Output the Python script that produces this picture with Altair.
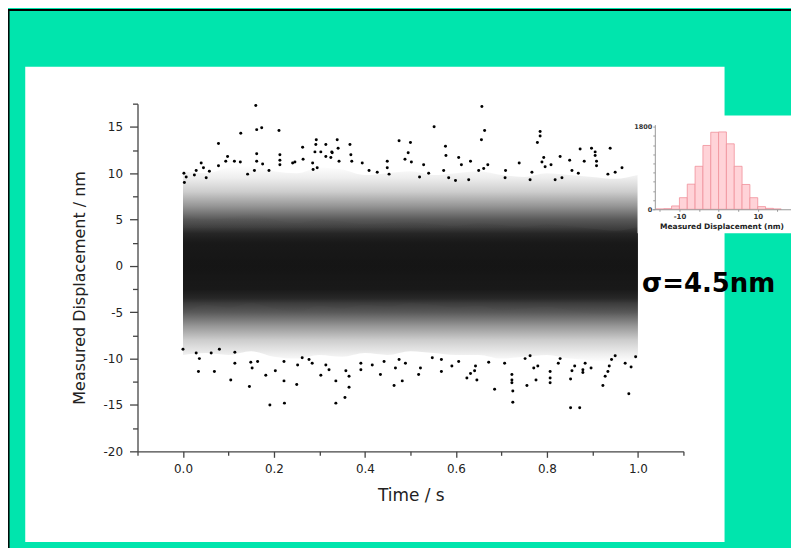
import altair as alt
import pandas as pd

# ---------------- data ----------------
# density envelope of the dense trace (Time / s vs nm), estimated per 0.05 s
knot_t = [0.00, 0.05, 0.10, 0.15, 0.20, 0.25, 0.30, 0.35, 0.40, 0.45, 0.50,
          0.55, 0.60, 0.65, 0.70, 0.75, 0.80, 0.85, 0.90, 0.95, 1.00]
core_hi = [5.8, 5.0, 5.2, 5.6, 5.0, 4.6, 5.0, 4.8, 4.5, 4.6, 4.7,
           4.5, 4.3, 4.6, 4.4, 4.2, 4.5, 4.3, 4.0, 3.8, 4.2]
core_lo = [-5.4, -4.2, -4.5, -4.0, -4.6, -5.0, -4.3, -4.6, -4.2, -4.4, -4.0,
           -4.2, -4.5, -4.3, -4.8, -4.6, -4.4, -4.8, -5.2, -5.5, -5.0]
light_hi = [10.2, 10.0, 10.6, 10.8, 10.2, 10.0, 10.6, 10.4, 9.8, 10.0, 10.2,
            9.8, 10.0, 10.2, 9.8, 9.6, 10.0, 9.8, 9.6, 9.4, 9.8]
light_lo = [-9.6, -9.4, -9.6, -9.2, -9.8, -10.0, -9.6, -9.8, -9.4, -9.6, -9.2,
            -9.4, -9.6, -9.6, -10.0, -9.8, -9.6, -10.0, -10.2, -10.4, -10.0]

# individually visible points outside the dense band
out_t = [0.160, 0.127, 0.162, 0.173, 0.211, 0.078, 0.293, 0.292, 0.314, 0.339,
         0.367, 0.263, 0.290, 0.303, 0.327, 0.475, 0.495, 0.040, 0.029, 0.045,
         0.058, 0.078, 0.098, 0.094, 0.113, 0.126, 0.162, 0.162, 0.175, 0.142,
         0.157, 0.189, 0.213, 0.213, 0.213, 0.241, 0.246, 0.264, 0.285, 0.286,
         0.295, 0.314, 0.325, 0.328, 0.341, 0.343, 0.369, 0.371, 0.394, 0.409,
         0.427, 0.449, 0.449, 0.453, 0.488, 0.007, 0.025, 0.051, 0.003, 0.002,
         0.657, 0.552, 0.663, 0.656, 0.785, 0.785, 0.779, 0.500, 0.577, 0.873,
         0.898, 0.939, 0.906, 0.502, 0.529, 0.578, 0.606, 0.632, 0.612, 0.650,
         0.661, 0.670, 0.739, 0.793, 0.789, 0.829, 0.850, 0.882, 0.906, 0.909,
         0.909, 0.934, 0.950, 0.540, 0.573, 0.709, 0.708, 0.767, 0.763, 0.809,
         0.796, 0.855, 0.869, 0.818, 0.833, 0.584, 0.599, 0.628, 0.520, 0.965,
         0.036, 0.034, 0.069, 0.105, 0.114, 0.114, 0.146, 0.152, 0.164, 0.149,
         0.191, 0.223, 0.182, 0.203, 0.222, 0.222, 0.250, 0.252, 0.277, 0.284,
         0.262, 0.303, 0.314, 0.321, 0.336, 0.336, 0.356, 0.365, 0.365, 0.358,
         0.391, 0.391, 0.416, 0.434, 0.442, 0.464, 0.482, 0.467, 0.489, 0.000,
         0.029, 0.062, 0.080, 0.518, 0.522, 0.568, 0.591, 0.606, 0.624, 0.632,
         0.641, 0.646, 0.643, 0.685, 0.672, 0.723, 0.723, 0.723, 0.725, 0.725,
         0.707, 0.756, 0.776, 0.771, 0.780, 0.807, 0.807, 0.807, 0.852, 0.872,
         0.852, 0.855, 0.861, 0.879, 0.879, 0.923, 0.928, 0.934, 0.937, 0.980,
         0.972, 0.897, 0.884, 0.475, 0.548, 0.568, 0.752, 0.763, 0.825, 0.829,
         0.942, 0.950, 0.995, 0.985]
out_y = [17.3, 14.3, 14.7, 14.9, 14.6, 13.2, 13.6, 13.1, 13.1, 13.6,
         13.1, 12.8, 12.3, 12.3, 12.3, 13.5, 12.2, 11.1, 10.3, 10.6,
         10.2, 10.8, 11.8, 11.3, 11.3, 11.2, 12.1, 11.3, 11.0, 9.9,
         10.3, 10.3, 12.0, 11.4, 10.9, 11.1, 11.2, 11.5, 11.1, 10.4,
         10.6, 11.8, 11.7, 12.2, 12.7, 11.3, 12.0, 11.3, 11.1, 10.3,
         10.1, 11.3, 10.6, 9.9, 11.5, 9.6, 9.8, 9.5, 9.0, 10.0,
         17.2, 15.0, 14.6, 13.6, 14.5, 14.0, 13.3, 13.3, 12.9, 12.6,
         12.7, 12.7, 12.3, 11.2, 10.9, 11.9, 11.7, 11.3, 10.9, 10.3,
         10.5, 10.9, 11.1, 11.7, 11.2, 11.8, 11.4, 11.3, 11.9, 11.3,
         10.8, 9.9, 10.1, 10.0, 10.3, 10.3, 9.5, 10.1, 9.3, 10.9,
         10.7, 10.3, 10.0, 9.3, 9.5, 9.5, 9.2, 9.3, 9.6, 10.6,
         -10.0, -11.4, -11.4, -12.3, -10.5, -9.3, -13.0, -11.0, -10.3, -10.4,
         -15.0, -14.8, -11.8, -11.3, -12.4, -10.3, -12.8, -10.7, -10.1, -10.5,
         -9.9, -11.8, -10.7, -11.2, -14.8, -12.4, -14.2, -13.1, -11.9, -11.3,
         -11.2, -10.5, -10.7, -11.7, -10.3, -12.9, -12.4, -11.0, -10.5, -9.0,
         -9.4, -9.4, -9.0, -11.7, -11.0, -11.4, -10.8, -10.3, -12.1, -11.6,
         -11.3, -12.3, -10.8, -13.3, -10.4, -11.7, -12.3, -12.6, -13.5, -14.7,
         -10.5, -12.9, -12.3, -11.0, -10.8, -12.1, -12.6, -11.4, -15.3, -15.3,
         -12.2, -11.3, -10.8, -11.2, -11.5, -12.9, -11.9, -11.4, -10.8, -13.8,
         -10.5, -11.0, -10.5, -10.1, -9.9, -10.1, -10.0, -9.7, -10.5, -10.0,
         -10.1, -9.7, -9.8, -10.9]

x_tick_values = [-0.1, 0.0, 0.1, 0.2, 0.3, 0.4, 0.5, 0.6, 0.7, 0.8, 0.9, 1.0, 1.1]
y_tick_values = [-20, -17.5, -15, -12.5, -10, -7.5, -5, -2.5, 0, 2.5, 5, 7.5,
                 10, 12.5, 15, 17.5]

# inset histogram (2 nm bins)
hist_bin_start = [-16, -14, -12, -10, -8, -6, -4, -2, 0, 2, 4, 6, 8, 10, 12, 14]
hist_counts = [6, 12, 72, 252, 547, 936, 1390, 1678, 1685, 1426, 936, 540, 252,
               58, 20, 5]
hist_bin_width = 2
hist_x_ticks = [-15, -10, -5, 0, 5, 10, 15]
hist_y_ticks = [0, 200, 400, 600, 800, 1000, 1200, 1400, 1600, 1800]

sigma_label = ["σ=4.5nm"]

# ---------------- frames ----------------
light_df = pd.DataFrame({"t": knot_t, "lo": light_lo, "hi": light_hi})
core_df = pd.DataFrame({"t": knot_t, "lo": core_lo, "hi": core_hi})
pts = pd.DataFrame({"t": out_t, "y": out_y})
hist = pd.DataFrame({"b0": hist_bin_start,
                     "b1": [b + hist_bin_width for b in hist_bin_start],
                     "count": hist_counts})
one = alt.Data(values=[{"k": 1}])

W, H = 548, 349
GREEN = "#00E5AD"
FONT = "DejaVu Sans"

x_axis = alt.Axis(
    values=x_tick_values,
    labelExpr="abs(round(datum.value*10)) % 2 == 0 ? format(datum.value, '.1f') : ''",
    tickSize={"condition": {"test": "abs(round(datum.value*10)) % 2 == 1", "value": 4}, "value": 6},
    labelPadding=6, labelFontSize=12, labelFont=FONT, labelColor="#222",
    title="Time / s", titleFontSize=17, titleFont=FONT, titleFontWeight="normal",
    titleColor="#222", titleX=274.3, titleY=44.7, titleBaseline="middle",
    domainColor="#444", tickColor="#444", domainWidth=1.3, tickWidth=1.3,
    grid=False, zindex=1, orient="bottom",
)
y_axis = alt.Axis(
    values=y_tick_values,
    labelExpr="datum.value % 5 == 0 ? '' + datum.value : ''",
    tickSize={"condition": {"test": "datum.value % 5 != 0", "value": 5}, "value": 8},
    labelPadding=7, labelFontSize=12, labelFont=FONT, labelColor="#222",
    title="Measured Displacement / nm", titleFontSize=16, titleFont=FONT,
    titleFontWeight="normal", titleColor="#222", titleAngle=270,
    titleX=-58.7, titleY=184.5, titleAlign="center", titleBaseline="middle",
    domainColor="#444", tickColor="#444", domainWidth=1.3, tickWidth=1.3,
    grid=False, zindex=1, orient="left",
)
xs = alt.Scale(domain=[-0.1, 1.1], nice=False, zero=False)
ys = alt.Scale(domain=[-20, 17.5], nice=False, zero=False)

# vertical shading of the dot cloud (style only): grey level vs displacement
def grad(top, bottom, stops):
    span = top - bottom
    return alt.LinearGradient(
        gradient="linear", x1=0, x2=0, y1=0, y2=1,
        stops=[alt.GradientStop(offset=min(1, max(0, (top - v) / span)), color=c)
               for v, c in stops])

light_fill = grad(max(light_hi), min(light_lo), [
    (10.8, "#ffffff"), (9.5, "#eeeeee"), (8.0, "#cdcdcd"), (6.5, "#979797"),
    (5.0, "#595959"), (3.5, "#303030"), (0.0, "#262626"), (-3.5, "#303030"),
    (-5.0, "#595959"), (-6.5, "#979797"), (-8.0, "#cdcdcd"), (-9.5, "#eeeeee"),
    (-10.4, "#ffffff")])
core_fill = grad(max(core_hi), min(core_lo), [
    (5.8, "rgba(0,0,0,0)"), (4.2, "rgba(0,0,0,0.04)"), (2.5, "rgba(0,0,0,0.45)"),
    (-2.5, "rgba(0,0,0,0.45)"), (-4.0, "rgba(0,0,0,0.04)"), (-5.5, "rgba(0,0,0,0)")])

def band(df, fill):
    return alt.Chart(df).mark_area(color=fill, interpolate="monotone").encode(
        x=alt.X("t:Q", scale=xs, axis=x_axis),
        y=alt.Y("lo:Q", scale=ys, axis=y_axis),
        y2="hi:Q",
    )

points = alt.Chart(pts).mark_circle(size=9, color="black", opacity=1).encode(
    x=alt.X("t:Q", scale=xs, axis=x_axis),
    y=alt.Y("y:Q", scale=ys, axis=y_axis),
)
main = alt.layer(band(light_df, light_fill), band(core_df, core_fill), points)

panel = alt.Chart(one).mark_rect(color="white").encode(
    x=alt.value(-112.7), x2=alt.value(589.3), y=alt.value(-37), y2=alt.value(440))
inset_box = alt.Chart(one).mark_rect(color="white").encode(
    x=alt.value(502), x2=alt.value(670), y=alt.value(12), y2=alt.value(130))

hx = alt.Scale(domain=[-17, 18.5], range=[516.5, 656], nice=False, zero=False)
hy = alt.Scale(domain=[0, 1845], range=[106, 21], nice=False, zero=False)
hist_chart = alt.Chart(hist).mark_rect(fill="#FFD3D8", stroke="#F0909A", strokeWidth=0.8).encode(
    x=alt.X("b0:Q", scale=hx, axis=alt.Axis(
        orient="bottom", offset=-243, values=hist_x_ticks,
        labelExpr="abs(datum.value) % 10 == 0 ? '' + datum.value : ''",
        tickSize=2, labelPadding=1.5, labelFontSize=7, labelFontWeight="bold",
        labelFont=FONT, labelColor="#333",
        title="Measured Displacement (nm)", titleFontSize=7.5, titleFontWeight="bold",
        titleFont=FONT, titleColor="#222", titleX=586.3, titleY=17, titleBaseline="middle",
        domainColor="#999", tickColor="#999", domainWidth=1, grid=False, zindex=1)),
    x2="b1:Q",
    y=alt.Y("count:Q", scale=hy, axis=alt.Axis(
        orient="left", offset=-519.3, values=hist_y_ticks,
        labelExpr="datum.value == 0 || datum.value == 1800 ? '' + datum.value : ''",
        tickSize=2, labelPadding=1, labelFontSize=6.5, labelFontWeight="bold",
        labelFont=FONT, labelColor="#333", title="",
        domainColor="#999", tickColor="#999", domainWidth=1, grid=False, zindex=1)),
    y2=alt.datum(0),
)

sigma = alt.Chart(pd.DataFrame({"label": sigma_label})).mark_text(
    font=FONT, fontWeight="bold", fontSize=26, align="left", baseline="alphabetic",
    color="black").encode(x=alt.value(506.5), y=alt.value(188.7), text="label:N")

border_top = alt.Chart(one).mark_rule(color="black", strokeWidth=2).encode(
    x=alt.value(-130), x2=alt.value(660), y=alt.value(-94))
border_left = alt.Chart(one).mark_rule(color="black", strokeWidth=1.5).encode(
    x=alt.value(-129.2), y=alt.value(-95), y2=alt.value(450))

chart = alt.layer(panel, main, inset_box, hist_chart, sigma, border_top, border_left).resolve_scale(
    x="independent", y="independent").resolve_axis(x="independent", y="independent").properties(
    width=W, height=H,
    padding={"left": 130, "top": 95, "right": 108, "bottom": 96},
    autosize=alt.AutoSizeParams(type="none"),
    background=GREEN,
).configure_view(strokeWidth=0)

chart.save("out.html", embed_options={"renderer": "svg", "actions": False})
